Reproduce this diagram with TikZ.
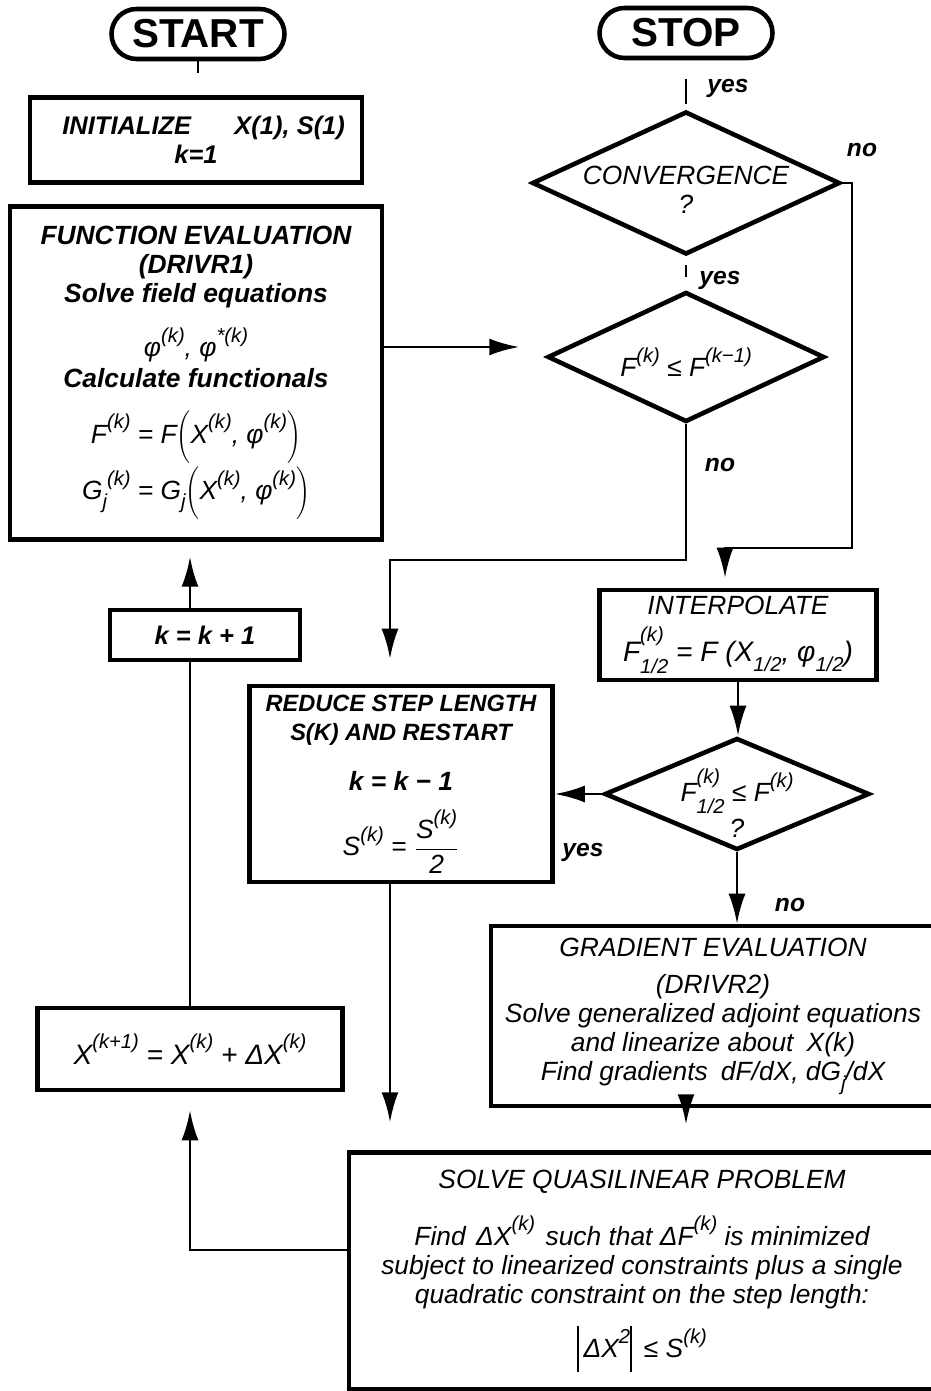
\documentclass[tikz,border=0pt]{standalone}
\usepackage{fontspec}
\setmainfont{Liberation Sans}
\usetikzlibrary{shapes.geometric, arrows.meta}

\newcommand{\up}[1]{\raisebox{0.55em}{\fontsize{11.5}{13}\selectfont #1}}
\newcommand{\dn}[1]{\raisebox{-0.35em}{\fontsize{11.5}{13}\selectfont #1}}
\newcommand{\supk}{\up{(k)}}
\newcommand{\Fhalf}{F\rlap{\raisebox{0.7em}{\fontsize{11.5}{13}\selectfont(k)}}\raisebox{-0.45em}{\fontsize{11.5}{13}\selectfont 1/2}}
\newcommand{\normbar}{\raisebox{-0.55em}{\rule{1.2pt}{1.75em}}}

\begin{document}
\begin{tikzpicture}[x=0.02cm, y=-0.02cm,
  every node/.style={font=\fontsize{15}{16.5}\selectfont\itshape},
  box/.style={draw, line width=2.6pt, align=center, inner sep=0pt},
  heavy/.style={font=\fontsize{14.5}{16.5}\selectfont\bfseries\itshape},
  term/.style={draw, line width=2.6pt, rounded corners=0.5cm, inner sep=0pt,
    font=\fontsize{23}{26}\selectfont\bfseries, minimum width=3.46cm, minimum height=1cm},
  test/.style={draw, diamond, line width=2.6pt, inner sep=0pt},
  flow/.style={line width=1.6pt},
  arr/.style={flow, -{Latex[length=0.6cm, width=0.34cm]}},
  tag/.style={font=\fontsize{14}{16}\selectfont\bfseries\itshape}]
\useasboundingbox (0,0) rectangle (930,1391);

\node[term] (start) at (198,34) {START};
\node[term] (stop) at (686,33) {STOP};

\node[box, heavy, minimum width=6.64cm, minimum height=1.7cm] (init) at (196,140)
  {\hspace{0.6em}INITIALIZE\hspace{1.7em}X(1), S(1)\\k=1};

\node[box, minimum width=7.44cm, minimum height=6.66cm] (func) at (196,373)
  {\bfseries FUNCTION EVALUATION\\ \bfseries (DRIVR1)\\ \bfseries Solve field equations\\[10pt]
   φ\supk, φ\up{*(k)}\\[1pt] \bfseries Calculate functionals\\[12pt]
   F\supk{} = F$\Biggl($X\supk, φ\supk$\Biggr)$\\[1pt]
   G\dn{j}\up{(k)} = G\dn{j}$\Biggl($X\supk, φ\supk$\Biggr)$};

\node[test, minimum width=6.16cm, minimum height=2.86cm] (conv) at (686,183) {};
\node[align=center] (convtxt) at (686,190) {CONVERGENCE\\?};
\node[test, minimum width=5.54cm, minimum height=2.6cm] (fcomp) at (686,357) {};
\node (fcomptxt) at (686,362) {F\supk{} ≤ F\up{(k−1)}};

\node[box, minimum width=5.54cm, minimum height=1.8cm] (interp) at (738,635)
  {INTERPOLATE\\[6pt] \fontsize{16}{18}\selectfont\Fhalf{} = F (X\dn{1/2}, φ\dn{1/2})};
\node[test, minimum width=5.3cm, minimum height=2.24cm] (fhalf) at (737,794) {};
\node[align=center] (fhalftxt) at (737,803) {\Fhalf{} ≤ F\supk\\[2pt] ?};

\node[box, minimum width=6.06cm, minimum height=3.92cm] (reduce) at (401,784)
  {\fontsize{13.4}{16}\selectfont\bfseries REDUCE STEP LENGTH\\
   \fontsize{13.4}{16}\selectfont\bfseries S(K) AND RESTART\\[12pt]
   \bfseries k = k − 1\\[10pt]
   S\supk{} = $\displaystyle\frac{\mbox{S\supk}}{\mbox{2}}$};

\node[box, heavy, minimum width=3.8cm, minimum height=1cm] (incr) at (205,635) {k = k + 1};
\node[box, minimum width=6.1cm, minimum height=1.64cm] (upd) at (190,1049)
  {\fontsize{16}{18}\selectfont X\up{(k+1)} = X\supk{} + ΔX\supk};

\node[box, minimum width=8.88cm, minimum height=3.6cm] (grad) at (713,1016)
  {GRADIENT EVALUATION\\[5pt] (DRIVR2)\\ Solve generalized adjoint equations\\
   and linearize about\hspace{0.5em}X(k)\\ Find gradients\hspace{0.5em}dF/dX, dG\dn{j}/dX};

\node[box, minimum width=11.72cm, minimum height=4.74cm] (solve) at (642,1271)
  {SOLVE QUASILINEAR PROBLEM\\[12pt]
   Find\hspace{0.4em}ΔX\supk\hspace{0.4em}such that ΔF\supk{} is minimized\\
   subject to linearized constraints plus a single\\
   quadratic constraint on the step length:\\[9pt]
   \normbar\,ΔX\up{2}\normbar\, ≤ S\supk};

% connectors
\coordinate (bend) at (852,548);
\coordinate (drop) at (390,560);
\coordinate (back) at (190,1250);
\coordinate (feed) at (382,347);

\draw[flow, shorten >=0.44cm] (start.south) -- (start.south |- init.north);
\draw[flow, shorten <=0.1cm, shorten >=0.38cm] (conv.north) -- (conv.north |- stop.south);
\draw[flow, shorten <=0.26cm, shorten >=0.16cm] (fcomp.north) -- (conv.south);
\draw[arr, shorten >=0.52cm] (feed) -- (feed -| fcomp.west);
\draw[arr, shorten >=0.2cm] (conv.east) -| (bend) -| ([xshift=-0.26cm]interp.north);
\draw[arr, shorten >=0.5cm] (fcomp.south) |- (drop) -- (drop |- reduce.north);
\draw[arr] (interp.south) -- (interp.south |- fhalf.north);
\draw[arr] (fhalf.west) -- (fhalf.west -| reduce.east);
\draw[arr] (fhalf.south) -- (fhalf.south |- grad.north);
\draw[arr, shorten >=0.56cm] (drop |- reduce.south) -- (drop |- solve.north);
\draw[arr, shorten >=0.52cm] (grad.south -| fcomp.south) -- (fcomp.south |- solve.north);
\draw[arr, shorten >=0.36cm] (back -| solve.west) -- (back) -- (back |- upd.south);
\draw[flow] (upd.north) -- (upd.north |- incr.south);
\draw[arr, shorten >=0.3cm] (upd.north |- incr.north) -- (upd.north |- func.south);

\node[tag] (yes1) at (728,88) {yes};
\node[tag] (yes2) at (720,280) {yes};
\node[tag] (no1) at (862,150) {no};
\node[tag] (no2) at (720,465) {no};
\node[tag] (yes3) at (583,852) {yes};
\node[tag] (no3) at (790,905) {no};
\end{tikzpicture}
\end{document}
